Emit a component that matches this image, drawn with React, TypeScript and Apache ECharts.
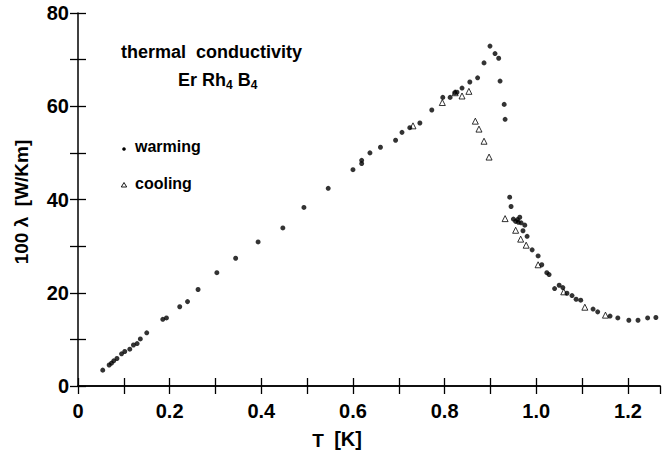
import React, { useEffect, useRef } from "react";
import * as echarts from "echarts";

// ---- data ----
const warmingT = [
  0.054, 0.068, 0.073, 0.078, 0.085, 0.095, 0.102, 0.113, 0.121, 0.129, 0.136, 0.15,
  0.185, 0.193, 0.222, 0.239, 0.262, 0.303, 0.344, 0.393, 0.447, 0.493, 0.546, 0.6,
  0.619, 0.619, 0.637, 0.66, 0.693, 0.707, 0.724, 0.746, 0.772, 0.796, 0.812, 0.822,
  0.827, 0.838, 0.855, 0.872, 0.886, 0.899, 0.91, 0.918, 0.921, 0.93, 0.932, 0.942,
  0.945, 0.95, 0.955, 0.959, 0.964, 0.961, 0.967, 0.975, 0.971, 0.98, 0.991, 1.004,
  1.012, 1.023, 1.028, 1.04, 1.05, 1.058, 1.067, 1.078, 1.087, 1.097, 1.124, 1.134,
  1.161, 1.178, 1.202, 1.222, 1.243, 1.261,
];
const warmingL = [
  3.4, 4.5, 4.9, 5.4, 5.9, 6.9, 7.4, 7.9, 8.8, 9.1, 10.1, 11.4,
  14.3, 14.6, 17.0, 18.1, 20.7, 24.3, 27.4, 30.9, 33.9, 38.3, 42.4, 46.4,
  48.4, 47.7, 50.0, 51.2, 52.7, 54.4, 55.4, 56.4, 59.2, 61.9, 61.9, 62.9,
  63.0, 63.9, 65.2, 66.1, 69.3, 72.9, 71.3, 70.3, 65.4, 60.4, 57.2, 40.5,
  38.5, 35.8, 35.3, 35.7, 36.2, 35.1, 35.0, 34.5, 33.3, 32.1, 29.2, 27.9,
  26.0, 24.3, 23.9, 20.9, 21.6, 21.1, 19.9, 19.4, 18.6, 18.4, 16.5, 15.9,
  15.0, 14.6, 14.1, 14.1, 14.6, 14.7,
];
const coolingT = [
  0.731, 0.795, 0.823, 0.838, 0.853, 0.867, 0.875, 0.886, 0.897, 0.932, 0.955, 0.966,
  0.978, 1.004, 1.06, 1.106, 1.151,
];
const coolingL = [
  55.8, 60.8, 62.9, 62.2, 63.2, 56.8, 55.1, 52.5, 49.1, 35.9, 33.4, 31.5,
  30.2, 26.0, 20.2, 16.9, 15.2,
];

const xMin = 0;
const xMax = 1.27;
const xStep = 0.1;
const yMin = 0;
const yMax = 80;
const yStep = 10;

const titleLine1 = "thermal  conductivity";
const legendWarming = "warming";
const legendCooling = "cooling";
const xTitleT = "T";
const xTitleUnit = "[K]";
const yTitle = "100 λ  [W/Km]";

const FONT = "'Liberation Sans', Arial, Helvetica, sans-serif";

function xLabelFmt(v: number): string {
  const r = Math.round(v * 10);
  if (r % 2 !== 0 || r > 12) return "";
  return r === 0 ? "0" : (r / 10).toFixed(1);
}
function yLabelFmt(v: number): string {
  return Math.round(v) % 20 === 0 ? String(Math.round(v)) : "";
}

export default function App() {
  const ref = useRef<HTMLDivElement>(null);
  useEffect(() => {
    if (!ref.current) return;
    const chart = echarts.init(ref.current, undefined, { renderer: "svg" });
    const axisLine = { show: true, lineStyle: { color: "#000", width: 1.5 } };
    const tick = { show: true, inside: true, length: 8, lineStyle: { color: "#000", width: 1.3 } };
    const labelStyle = {
      color: "#000",
      fontFamily: FONT,
      fontWeight: "bold" as const,
      fontSize: 20,
    };
    chart.setOption({
      animation: false,
      backgroundColor: "#fff",
      grid: { left: 78, top: 13, width: 582, height: 373, containLabel: false },
      xAxis: [
        {
          type: "value",
          position: "bottom",
          min: xMin,
          max: xMax,
          interval: xStep,
          axisLine,
          axisTick: tick,
          splitLine: { show: false },
          axisLabel: { ...labelStyle, margin: 15, formatter: xLabelFmt, showMaxLabel: false },
        },
        {
          type: "value",
          position: "top",
          min: xMin,
          max: xMax,
          interval: xStep,
          axisLine,
          axisTick: tick,
          splitLine: { show: false },
          axisLabel: { show: false },
        },
      ],
      yAxis: [
        {
          type: "value",
          position: "left",
          min: yMin,
          max: yMax,
          interval: yStep,
          axisLine,
          axisTick: tick,
          splitLine: { show: false },
          axisLabel: { ...labelStyle, margin: 9, formatter: yLabelFmt },
        },
        {
          type: "value",
          position: "right",
          min: yMin,
          max: yMax,
          interval: yStep,
          axisLine: { show: false },
          axisTick: tick,
          splitLine: { show: false },
          axisLabel: { show: false },
        },
      ],
      series: [
        {
          type: "scatter",
          name: "warming",
          xAxisIndex: 0,
          yAxisIndex: 0,
          symbol: "circle",
          symbolSize: 5,
          itemStyle: { color: "#000" },
          data: warmingT.map((t, i) => [t, warmingL[i]]),
          z: 3,
        },
        {
          type: "scatter",
          name: "cooling",
          xAxisIndex: 0,
          yAxisIndex: 0,
          symbol: "triangle",
          symbolSize: 6,
          itemStyle: { color: "#fff", borderColor: "#000", borderWidth: 1 },
          data: coolingT.map((t, i) => [t, coolingL[i]]),
          z: 2,
        },
      ],
      graphic: [
        {
          type: "text",
          left: 121,
          top: 43,
          style: {
            text: titleLine1,
            fill: "#000",
            font: `bold 18px ${FONT}`,
          },
        },
        {
          type: "text",
          left: 178,
          top: 71,
          style: {
            text: "{n|Er Rh}{s|4}{n| B}{s|4}",
            fill: "#000",
            rich: {
              n: { fontFamily: FONT, fontWeight: "bold", fontSize: 18, lineHeight: 22, fill: "#000" },
              s: { fontFamily: FONT, fontWeight: "bold", fontSize: 12, lineHeight: 12, verticalAlign: "bottom", fill: "#000" },
            },
          },
        },
        { type: "circle", shape: { cx: 124, cy: 149, r: 1.8 }, style: { fill: "#000" } },
        {
          type: "text",
          left: 135,
          top: 138,
          style: { text: legendWarming, fill: "#000", font: `bold 16px ${FONT}` },
        },
        {
          type: "polygon",
          shape: { points: [[124, 182.5], [121.3, 187], [126.7, 187]] },
          style: { fill: "#fff", stroke: "#000", lineWidth: 0.9 },
        },
        {
          type: "text",
          left: 135,
          top: 175,
          style: { text: legendCooling, fill: "#000", font: `bold 16px ${FONT}` },
        },
        {
          type: "text",
          x: 318,
          y: 440,
          style: {
            text: xTitleT,
            fill: "#000",
            font: `bold 19px ${FONT}`,
            align: "center",
            verticalAlign: "middle",
          },
        },
        {
          type: "text",
          x: 348,
          y: 439,
          style: {
            text: xTitleUnit,
            fill: "#000",
            font: `bold 20px ${FONT}`,
            align: "center",
            verticalAlign: "middle",
          },
        },
        {
          type: "text",
          x: 21,
          y: 202,
          rotation: Math.PI / 2,
          style: {
            text: yTitle,
            fill: "#000",
            font: `bold 19px ${FONT}`,
            align: "center",
            verticalAlign: "middle",
          },
        },
      ],
    });
    return () => chart.dispose();
  }, []);
  return (
    <div
      ref={ref}
      style={{ position: "fixed", left: 0, top: 0, width: 663, height: 464, background: "#fff" }}
    />
  );
}
